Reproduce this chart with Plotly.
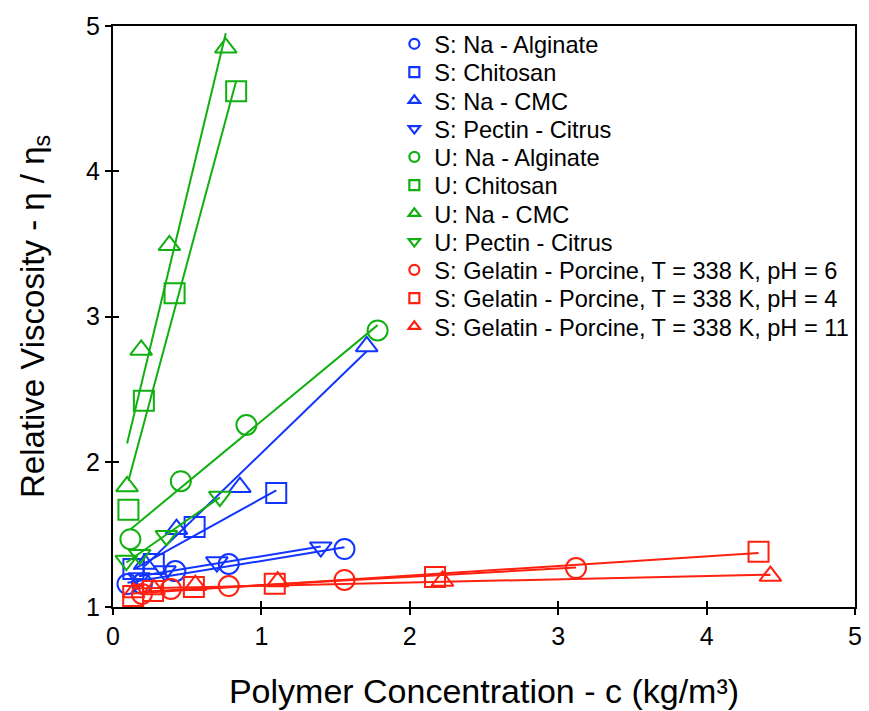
import numpy as np
import plotly.graph_objects as go

FONT = "Liberation Sans, Arial, Helvetica, sans-serif"
BLUE = "#1234FF"
GREEN = "#10B010"
RED = "#FF2010"

# ---- data: polymer concentration c (kg/m^3) and relative viscosity eta/eta_s ----
# S series (blue)
s_alg_c = [0.0975, 0.195, 0.42, 0.78, 1.56]
s_alg_eta = [1.158, 1.160, 1.247, 1.296, 1.399]
s_chi_c = [0.1375, 0.275, 0.55, 1.10]
s_chi_eta = [1.262, 1.296, 1.550, 1.784]
s_cmc_c = [0.214, 0.428, 0.855, 1.71]
s_cmc_eta = [1.296, 1.536, 1.825, 2.794]
s_pec_c = [0.175, 0.35, 0.70, 1.40]
s_pec_eta = [1.200, 1.247, 1.309, 1.412]

# U series (green)
u_alg_c = [0.117, 0.457, 0.899, 1.783]
u_alg_eta = [1.467, 1.866, 2.253, 2.904]
u_chi_c = [0.104, 0.208, 0.415, 0.83]
u_chi_eta = [1.67, 2.42, 3.16, 4.55]
u_cmc_c = [0.095, 0.19, 0.38, 0.76]
u_cmc_eta = [1.83, 2.77, 3.49, 4.85]
u_pec_c = [0.09, 0.18, 0.36, 0.72]
u_pec_eta = [1.32, 1.36, 1.49, 1.76]

# Gelatin - Porcine (red)
g6_c = [0.195, 0.39, 0.78, 1.56, 3.12]
g6_eta = [1.090, 1.124, 1.144, 1.186, 1.268]
g4_c = [0.136, 0.27, 0.545, 1.09, 2.17, 4.35]
g4_eta = [1.076, 1.110, 1.137, 1.160, 1.206, 1.380]
g11_c = [0.139, 0.277, 0.555, 1.11, 2.22, 4.43]
g11_eta = [1.100, 1.120, 1.150, 1.175, 1.179, 1.213]

names = [
    "S: Na - Alginate",
    "S: Chitosan",
    "S: Na - CMC",
    "S: Pectin - Citrus",
    "U: Na - Alginate",
    "U: Chitosan",
    "U: Na - CMC",
    "U: Pectin - Citrus",
    "S: Gelatin - Porcine, T = 338 K, pH = 6",
    "S: Gelatin - Porcine, T = 338 K, pH = 4",
    "S: Gelatin - Porcine, T = 338 K, pH = 11",
]
conc = [s_alg_c, s_chi_c, s_cmc_c, s_pec_c,
        u_alg_c, u_chi_c, u_cmc_c, u_pec_c,
        g6_c, g4_c, g11_c]
visc = [s_alg_eta, s_chi_eta, s_cmc_eta, s_pec_eta,
        u_alg_eta, u_chi_eta, u_cmc_eta, u_pec_eta,
        g6_eta, g4_eta, g11_eta]
colors = [BLUE] * 4 + [GREEN] * 4 + [RED] * 3
symbols = ["circle", "square", "triangle-up", "triangle-down"] * 2 + \
          ["circle", "square", "triangle-up"]

x_ticks = [0, 1, 2, 3, 4, 5]
y_ticks = [1, 2, 3, 4, 5]

marker_size = {"circle": 20, "square": 20, "triangle-up": 19, "triangle-down": 19}

fig = go.Figure()

for i, (name, c, eta, col, sym) in enumerate(zip(names, conc, visc, colors, symbols)):
    # least-squares straight line over the measured range
    slope, icpt = np.polyfit(c, eta, 1)
    cx = [min(c), max(c)]
    fig.add_trace(go.Scatter(
        x=cx, y=[icpt + slope * v for v in cx], mode="lines",
        line=dict(color=col, width=2), showlegend=False, hoverinfo="skip",
        cliponaxis=False))
    fig.add_trace(go.Scatter(
        x=c, y=eta, mode="markers", showlegend=False, cliponaxis=False,
        marker=dict(symbol=sym + "-open", size=marker_size[sym], color=col,
                    line=dict(width=2, color=col))))
    # small marker used for the key entry
    leg_id = "legend" if i == 0 else f"legend{i + 1}"
    fig.add_trace(go.Scatter(
        x=[None], y=[None], mode="markers", name=name, legend=leg_id,
        marker=dict(symbol=sym + "-open", size=10, color=col,
                    line=dict(width=2.2, color=col))))

# invisible trace so the inner tick axes are drawn
fig.add_trace(go.Scatter(x=[None], y=[None], xaxis="x2", yaxis="y2",
                         showlegend=False, hoverinfo="skip"))

L, R, T, B = 113, 7, 26, 103
W, H = 869, 711
pw, ph = W - L - R, H - T - B

legends = {}
for i in range(len(names)):
    key = "legend" if i == 0 else f"legend{i + 1}"
    ypx = 44 + i * 28.3
    legends[key] = dict(
        x=(397 - L) / pw, y=1 - (ypx - T) / ph, xanchor="left", yanchor="middle",
        font=dict(family=FONT, size=23.6, color="black"),
        bgcolor="rgba(0,0,0,0)", borderwidth=0, itemwidth=30)

axis_common = dict(
    showline=True, linecolor="black", linewidth=2, mirror=True,
    ticks="outside", ticklen=6, tickwidth=2, tickcolor="black",
    showgrid=False, zeroline=False,
    tickfont=dict(family=FONT, size=25, color="black"))

fig.update_layout(
    width=W, height=H,
    margin=dict(l=L, r=R, t=T, b=B),
    plot_bgcolor="white", paper_bgcolor="white",
    font=dict(family=FONT, color="black"),
    xaxis=dict(range=[0, 5], tickvals=x_ticks,
               title=dict(text="Polymer Concentration - c (kg/m³)",
                          font=dict(family=FONT, size=34), standoff=30),
               **axis_common),
    yaxis=dict(range=[1, 5], tickvals=y_ticks,
               title=dict(text="Relative Viscosity - η / η<sub>s</sub>",
                          font=dict(family=FONT, size=33), standoff=32),
               **axis_common),
    xaxis2=dict(range=[0, 5], overlaying="x", anchor="y", side="bottom",
                tickvals=x_ticks, ticks="inside", ticklen=6, tickwidth=2,
                tickcolor="black", showticklabels=False, showline=False,
                showgrid=False, zeroline=False),
    yaxis2=dict(range=[1, 5], overlaying="y", anchor="x", side="left",
                tickvals=y_ticks, ticks="inside", ticklen=6, tickwidth=2,
                tickcolor="black", showticklabels=False, showline=False,
                showgrid=False, zeroline=False),
    **legends,
)

fig.write_html("out.html")
